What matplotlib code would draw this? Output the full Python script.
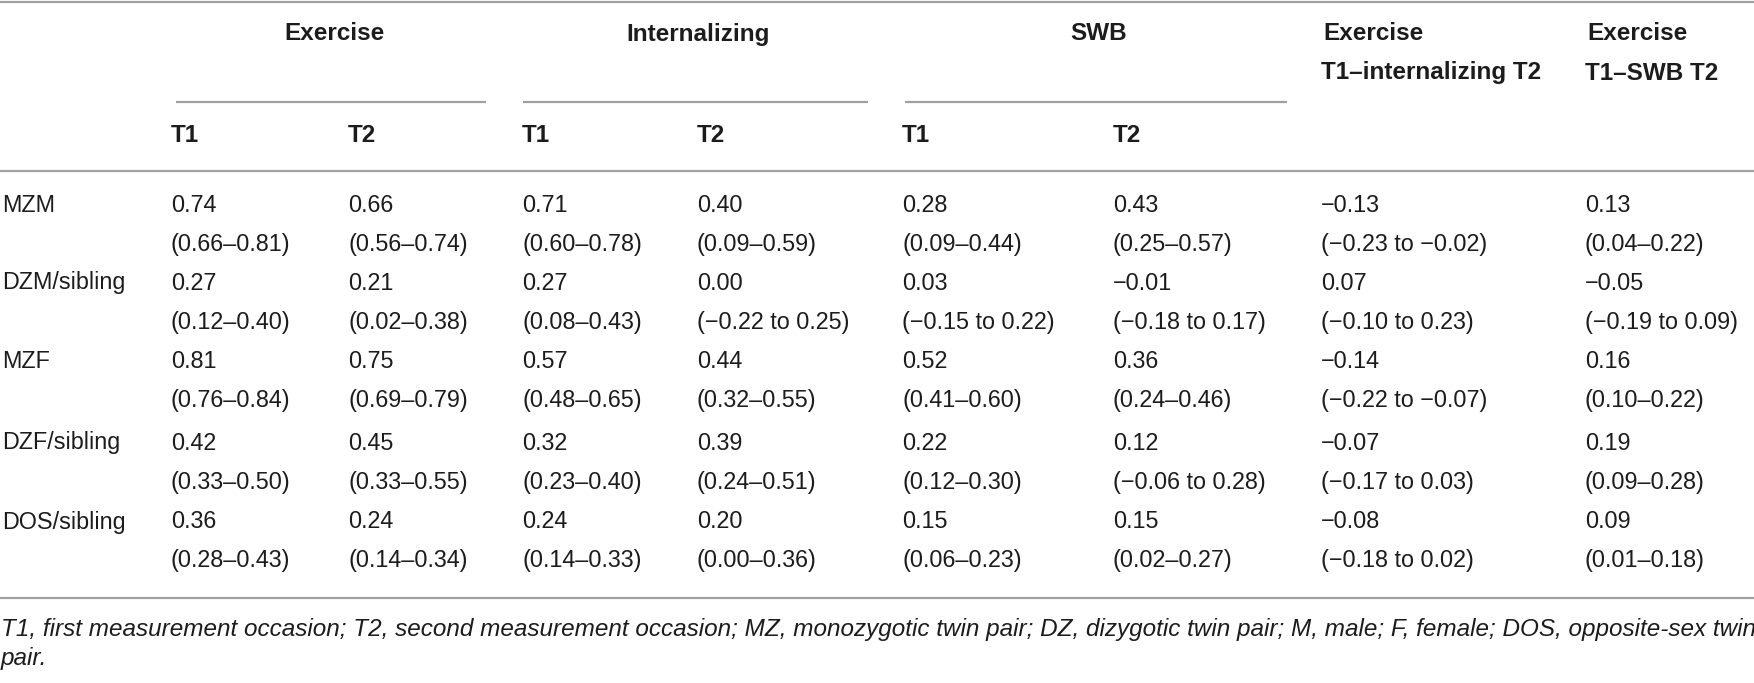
import matplotlib.pyplot as plt

# table content
groups = ["MZM", "DZM/sibling", "MZF", "DZF/sibling", "DOS/sibling"]
estimates = [
    ["0.74", "0.66", "0.71", "0.40", "0.28", "0.43", "\u22120.13", "0.13"],
    ["0.27", "0.21", "0.27", "0.00", "0.03", "\u22120.01", "0.07", "\u22120.05"],
    ["0.81", "0.75", "0.57", "0.44", "0.52", "0.36", "\u22120.14", "0.16"],
    ["0.42", "0.45", "0.32", "0.39", "0.22", "0.12", "\u22120.07", "0.19"],
    ["0.36", "0.24", "0.24", "0.20", "0.15", "0.15", "\u22120.08", "0.09"],
]
intervals = [
    ["(0.66\u20130.81)", "(0.56\u20130.74)", "(0.60\u20130.78)", "(0.09\u20130.59)",
     "(0.09\u20130.44)", "(0.25\u20130.57)", "(\u22120.23 to \u22120.02)", "(0.04\u20130.22)"],
    ["(0.12\u20130.40)", "(0.02\u20130.38)", "(0.08\u20130.43)", "(\u22120.22 to 0.25)",
     "(\u22120.15 to 0.22)", "(\u22120.18 to 0.17)", "(\u22120.10 to 0.23)", "(\u22120.19 to 0.09)"],
    ["(0.76\u20130.84)", "(0.69\u20130.79)", "(0.48\u20130.65)", "(0.32\u20130.55)",
     "(0.41\u20130.60)", "(0.24\u20130.46)", "(\u22120.22 to \u22120.07)", "(0.10\u20130.22)"],
    ["(0.33\u20130.50)", "(0.33\u20130.55)", "(0.23\u20130.40)", "(0.24\u20130.51)",
     "(0.12\u20130.30)", "(\u22120.06 to 0.28)", "(\u22120.17 to 0.03)", "(0.09\u20130.28)"],
    ["(0.28\u20130.43)", "(0.14\u20130.34)", "(0.14\u20130.33)", "(0.00\u20130.36)",
     "(0.06\u20130.23)", "(0.02\u20130.27)", "(\u22120.18 to 0.02)", "(0.01\u20130.18)"],
]
span_heads = ["Exercise", "Internalizing", "SWB"]
cross_heads = ["Exercise\nT1\u2013internalizing T2", "Exercise\nT1\u2013SWB T2"]
sub_heads = ["T1", "T2", "T1", "T2", "T1", "T2"]
footnote = ("T1, first measurement occasion; T2, second measurement occasion; MZ, monozygotic twin pair; "
            "DZ, dizygotic twin pair; M, male; F, female; DOS, opposite-sex twin\npair.")

W, H = 1754, 683
fig = plt.figure(figsize=(W / 100, H / 100), dpi=100)
ax = fig.add_axes([0, 0, 1, 1])
ax.set_xlim(0, W)
ax.set_ylim(H, 0)
ax.axis("off")

fam = ["Liberation Sans", "DejaVu Sans"]
txt = "#1c1c1c"
rule = "#a0a0a0"
body_fs = 16.8
head_fs = 17.5

col_x = [171, 348, 522, 697, 902, 1113, 1321, 1585]
span_x = [(176, 486), (523, 868), (905, 1287)]

# rules
for y in (1.5, 171, 598):
    ax.plot([0, W], [y, y], color=rule, lw=1.6, solid_capstyle="butt")
for x0, x1 in span_x:
    ax.plot([x0, x1], [102, 102], color=rule, lw=1.6, solid_capstyle="butt")

# header
for (x0, x1), name in zip(span_x, span_heads):
    ax.text((x0 + x1) / 2 + 3, 34, name, ha="center", va="center",
            fontsize=head_fs, fontweight="bold", family=fam, color=txt)
for x, name in zip(col_x[6:], cross_heads):
    top, bottom = name.split("\n")
    ax.text(x + 2, 34, top, ha="left", va="center", fontsize=head_fs,
            fontweight="bold", family=fam, color=txt)
    ax.text(x, 73, bottom, ha="left", va="center", fontsize=head_fs,
            fontweight="bold", family=fam, color=txt)
for x, name in zip(col_x[:6], sub_heads):
    ax.text(x, 136, name, ha="left", va="center", fontsize=head_fs,
            fontweight="bold", family=fam, color=txt)

# body
row_y = [205, 283, 362, 443, 522]
for i, g in enumerate(groups):
    y = row_y[i]
    ax.text(2, y, g, ha="left", va="center", fontsize=body_fs, family=fam, color=txt)
    for j, x in enumerate(col_x):
        ax.text(x, y, estimates[i][j], ha="left", va="center",
                fontsize=body_fs, family=fam, color=txt)
        ax.text(x, y + 39, intervals[i][j], ha="left", va="center",
                fontsize=body_fs, family=fam, color=txt)

ax.text(1, 618, footnote, ha="left", va="top", fontsize=17.5, style="italic",
        family=fam, color=txt, linespacing=1.32)

fig.savefig("out.png", dpi=100)
